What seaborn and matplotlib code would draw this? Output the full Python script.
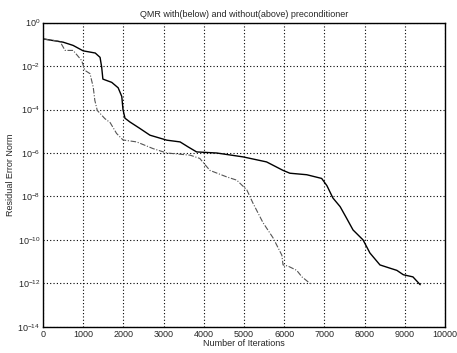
import numpy as np
import pandas as pd
import matplotlib
matplotlib.use("Agg")
import matplotlib.pyplot as plt
import seaborn as sns

# Without preconditioner (solid, above)
iter_without = [0, 500, 750, 1000, 1300, 1420, 1460, 1490, 1710, 1870, 1960, 1990, 2040,
                2160, 2410, 2660, 3080, 3410, 3610, 3820, 4320, 4980, 5560, 5970, 6140,
                6560, 6930, 7060, 7210, 7390, 7550, 7710, 7960, 8130, 8380, 8630, 8800,
                8960, 9200, 9380]
log_without = [-0.75, -0.9, -1.05, -1.3, -1.4, -1.6, -2.05, -2.6, -2.75, -3.0, -3.4, -4.0, -4.4,
               -4.57, -4.87, -5.18, -5.41, -5.49, -5.72, -5.95, -6.0, -6.18, -6.41, -6.8, -6.93,
               -7.0, -7.17, -7.5, -8.07, -8.47, -9.0, -9.54, -10.0, -10.6, -11.15, -11.3, -11.4,
               -11.6, -11.7, -12.06]

# With preconditioner (dash-dot, below)
iter_with = [0, 420, 550, 750, 960, 1045, 1170, 1250, 1290, 1350, 1540, 1670, 1830, 1990,
             2330, 2740, 3080, 3660, 3900, 4150, 4570, 4820, 5070, 5220, 5470, 5720, 5940,
             5970, 6090, 6310, 6440, 6680]
log_with = [-0.75, -0.86, -1.28, -1.28, -1.74, -2.2, -2.35, -2.97, -3.58, -4.04, -4.42, -4.6,
            -5.1, -5.4, -5.49, -5.8, -6.0, -6.1, -6.25, -6.8, -7.1, -7.25, -7.7, -8.3, -9.2,
            -9.9, -10.7, -11.15, -11.2, -11.4, -11.7, -12.06]

x_ticks = list(range(0, 10001, 1000))
y_exps = list(range(0, -15, -2))

df_without = pd.DataFrame({"it": iter_without, "err": 10.0 ** np.array(log_without)})
df_with = pd.DataFrame({"it": iter_with, "err": 10.0 ** np.array(log_with)})

sns.set_style("white")
plt.rcParams["font.family"] = ["Liberation Sans", "DejaVu Sans"]
plt.rcParams["mathtext.fontset"] = "custom"
plt.rcParams["mathtext.rm"] = "Liberation Sans"

fig = plt.figure(figsize=(4.57, 3.53), dpi=100)
ax = fig.add_axes([0.094, 0.074, 0.880, 0.862])

sns.lineplot(data=df_without, x="it", y="err", ax=ax, color="black", linewidth=1.0,
             estimator=None, sort=False)
sns.lineplot(data=df_with, x="it", y="err", ax=ax, color="#555555", linewidth=0.8,
             linestyle=(0, (5, 1.5, 1, 1.5)), estimator=None, sort=False)

ax.set_yscale("log")
ax.set_xlim(0, 10000)
ax.set_ylim(1e-14, 1e0)
ax.set_xticks(x_ticks)
ax.set_xticklabels([str(v) for v in x_ticks], fontsize=6.5)
ax.set_yticks([10.0 ** e for e in y_exps])
ax.set_yticklabels([f"$10^{{{e}}}$" for e in y_exps], fontsize=6.5)
ax.yaxis.set_minor_locator(matplotlib.ticker.NullLocator())
ax.grid(True, which="major", color="black", linestyle=(0, (1, 2)), linewidth=0.8)
ax.tick_params(axis="both", which="major", length=3, direction="in", pad=2)
for s in ax.spines.values():
    s.set_color("black")
    s.set_linewidth(1.0)

ax.set_title("QMR with(below) and without(above) preconditioner", fontsize=6.5, pad=4)
ax.set_xlabel("Number of Iterations", fontsize=6.5, labelpad=0)
ax.set_ylabel("Residual Error Norm", fontsize=6.5, labelpad=2)

fig.savefig("out.png", dpi=100)
